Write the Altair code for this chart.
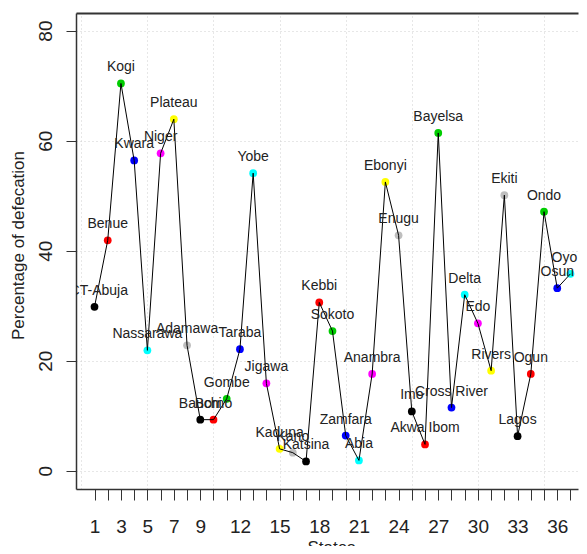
import altair as alt
import pandas as pd

states = ["FCT-Abuja", "Benue", "Kogi", "Kwara", "Nassarawa", "Niger", "Plateau",
          "Adamawa", "Bauchi", "Borno", "Gombe", "Taraba", "Yobe", "Jigawa",
          "Kaduna", "Kano", "Katsina", "Kebbi", "Sokoto", "Zamfara", "Abia",
          "Anambra", "Ebonyi", "Enugu", "Imo", "Akwa Ibom", "Bayelsa",
          "Cross River", "Delta", "Edo", "Rivers", "Ekiti", "Lagos", "Ogun",
          "Ondo", "Osun", "Oyo"]
state_index = list(range(1, 38))
defecation = [29.8, 41.9, 70.4, 56.4, 21.9, 57.7, 63.9, 22.8, 9.3, 9.3, 13.1,
              22.1, 54.1, 15.9, 4.0, 3.3, 1.7, 30.6, 25.4, 6.4, 1.9, 17.6, 52.5,
              42.8, 10.8, 4.8, 61.4, 11.5, 32.0, 26.8, 18.2, 50.1, 6.3, 17.6,
              47.1, 33.2, 35.8]
palette = ["#000000", "#FF0000", "#00CD00", "#0000FF", "#00FFFF", "#FF00FF",
           "#FFFF00", "#BEBEBE"]
x_tick_labels = [1, 3, 5, 7, 9, 12, 15, 18, 21, 24, 27, 30, 33, 36]
x_grid = [0, 5, 10, 15, 20, 25, 30, 35]
y_ticks = [0, 20, 40, 60, 80]

df = pd.DataFrame({
    "idx": state_index,
    "val": defecation,
    "state": states,
    "col": [palette[(i - 1) % len(palette)] for i in state_index],
})

FONT = "Liberation Sans"
xscale = alt.Scale(domain=[-0.4, 37.57], nice=False, zero=False)
yscale = alt.Scale(domain=[-3.3, 83.2], nice=False, zero=False)

yaxis = alt.Axis(values=y_ticks, grid=True, gridColor="#cfcfcf", gridDash=[1, 3],
                 gridWidth=1, tickSize=10, tickColor="#333333", tickWidth=1,
                 domainColor="#333333", domainWidth=1.5, labelAngle=270,
                 labelAlign="center", labelBaseline="alphabetic", labelPadding=15,
                 labelFont=FONT, labelFontSize=19, labelColor="#222222",
                 labelOverlap=False, labelFlush=False,
                 title="Percentage of defecation", titleFont=FONT,
                 titleFontSize=17, titleFontWeight="normal", titleColor="#222222",
                 titleAngle=270, titleX=-58, titleY=232, titleAlign="center",
                 titleBaseline="middle")

label_list = ",".join(str(v) for v in x_tick_labels)
xaxis_bottom = alt.Axis(values=state_index, orient="bottom", grid=False,
                        tickSize=11, tickColor="#333333", tickWidth=1,
                        domainColor="#333333", domainWidth=1.5,
                        labelExpr=f"indexof([{label_list}], datum.value) >= 0 ? datum.label : ''",
                        labelPadding=17, labelBaseline="top", labelFont=FONT,
                        labelFontSize=19, labelColor="#222222", labelOverlap=False,
                        labelFlush=False, format="d",
                        title="States", titleFont=FONT, titleFontSize=17,
                        titleFontWeight="normal", titleColor="#222222",
                        titleX=255, titleY=50, titleAlign="center",
                        titleBaseline="top")

xaxis_top = alt.Axis(values=x_grid, orient="top", grid=True, gridColor="#cfcfcf",
                     gridDash=[1, 3], gridWidth=1, ticks=False, labels=False,
                     domain=True, domainColor="#333333", domainWidth=2, title="")

base = alt.Chart(df)

points = base.mark_point(filled=True, size=60, opacity=1).encode(
    x=alt.X("idx:Q", scale=xscale, axis=xaxis_top),
    y=alt.Y("val:Q", scale=yscale, axis=yaxis),
    color=alt.Color("col:N", scale=None),
)

line = base.mark_line(color="black", strokeWidth=1).encode(
    x=alt.X("idx:Q", scale=xscale, axis=xaxis_bottom),
    y=alt.Y("val:Q", scale=yscale, axis=yaxis),
    order="idx:Q",
)

labels_clipped = base.transform_filter("datum.idx < 37").mark_text(
    dy=-16, fontSize=14, font=FONT, color="#222222", clip=True,
    baseline="middle", align="center").encode(
    x=alt.X("idx:Q", scale=xscale, axis=None),
    y=alt.Y("val:Q", scale=yscale, axis=yaxis),
    text="state:N",
)

labels_edge = base.transform_filter("datum.idx >= 37").mark_text(
    dy=-16, dx=-6, fontSize=14, font=FONT, color="#222222",
    baseline="middle", align="center").encode(
    x=alt.X("idx:Q", scale=xscale, axis=None),
    y=alt.Y("val:Q", scale=yscale, axis=yaxis),
    text="state:N",
)

chart = alt.layer(points, line, labels_clipped, labels_edge).resolve_axis(
    x="independent").properties(
    width=502, height=476,
    autosize=alt.AutoSizeParams(type="none"),
    padding={"left": 68, "top": 5, "right": 1, "bottom": 57},
    background="white",
).configure_view(stroke="transparent")

chart.save("out.html", embed_options={"renderer": "svg", "actions": False})
